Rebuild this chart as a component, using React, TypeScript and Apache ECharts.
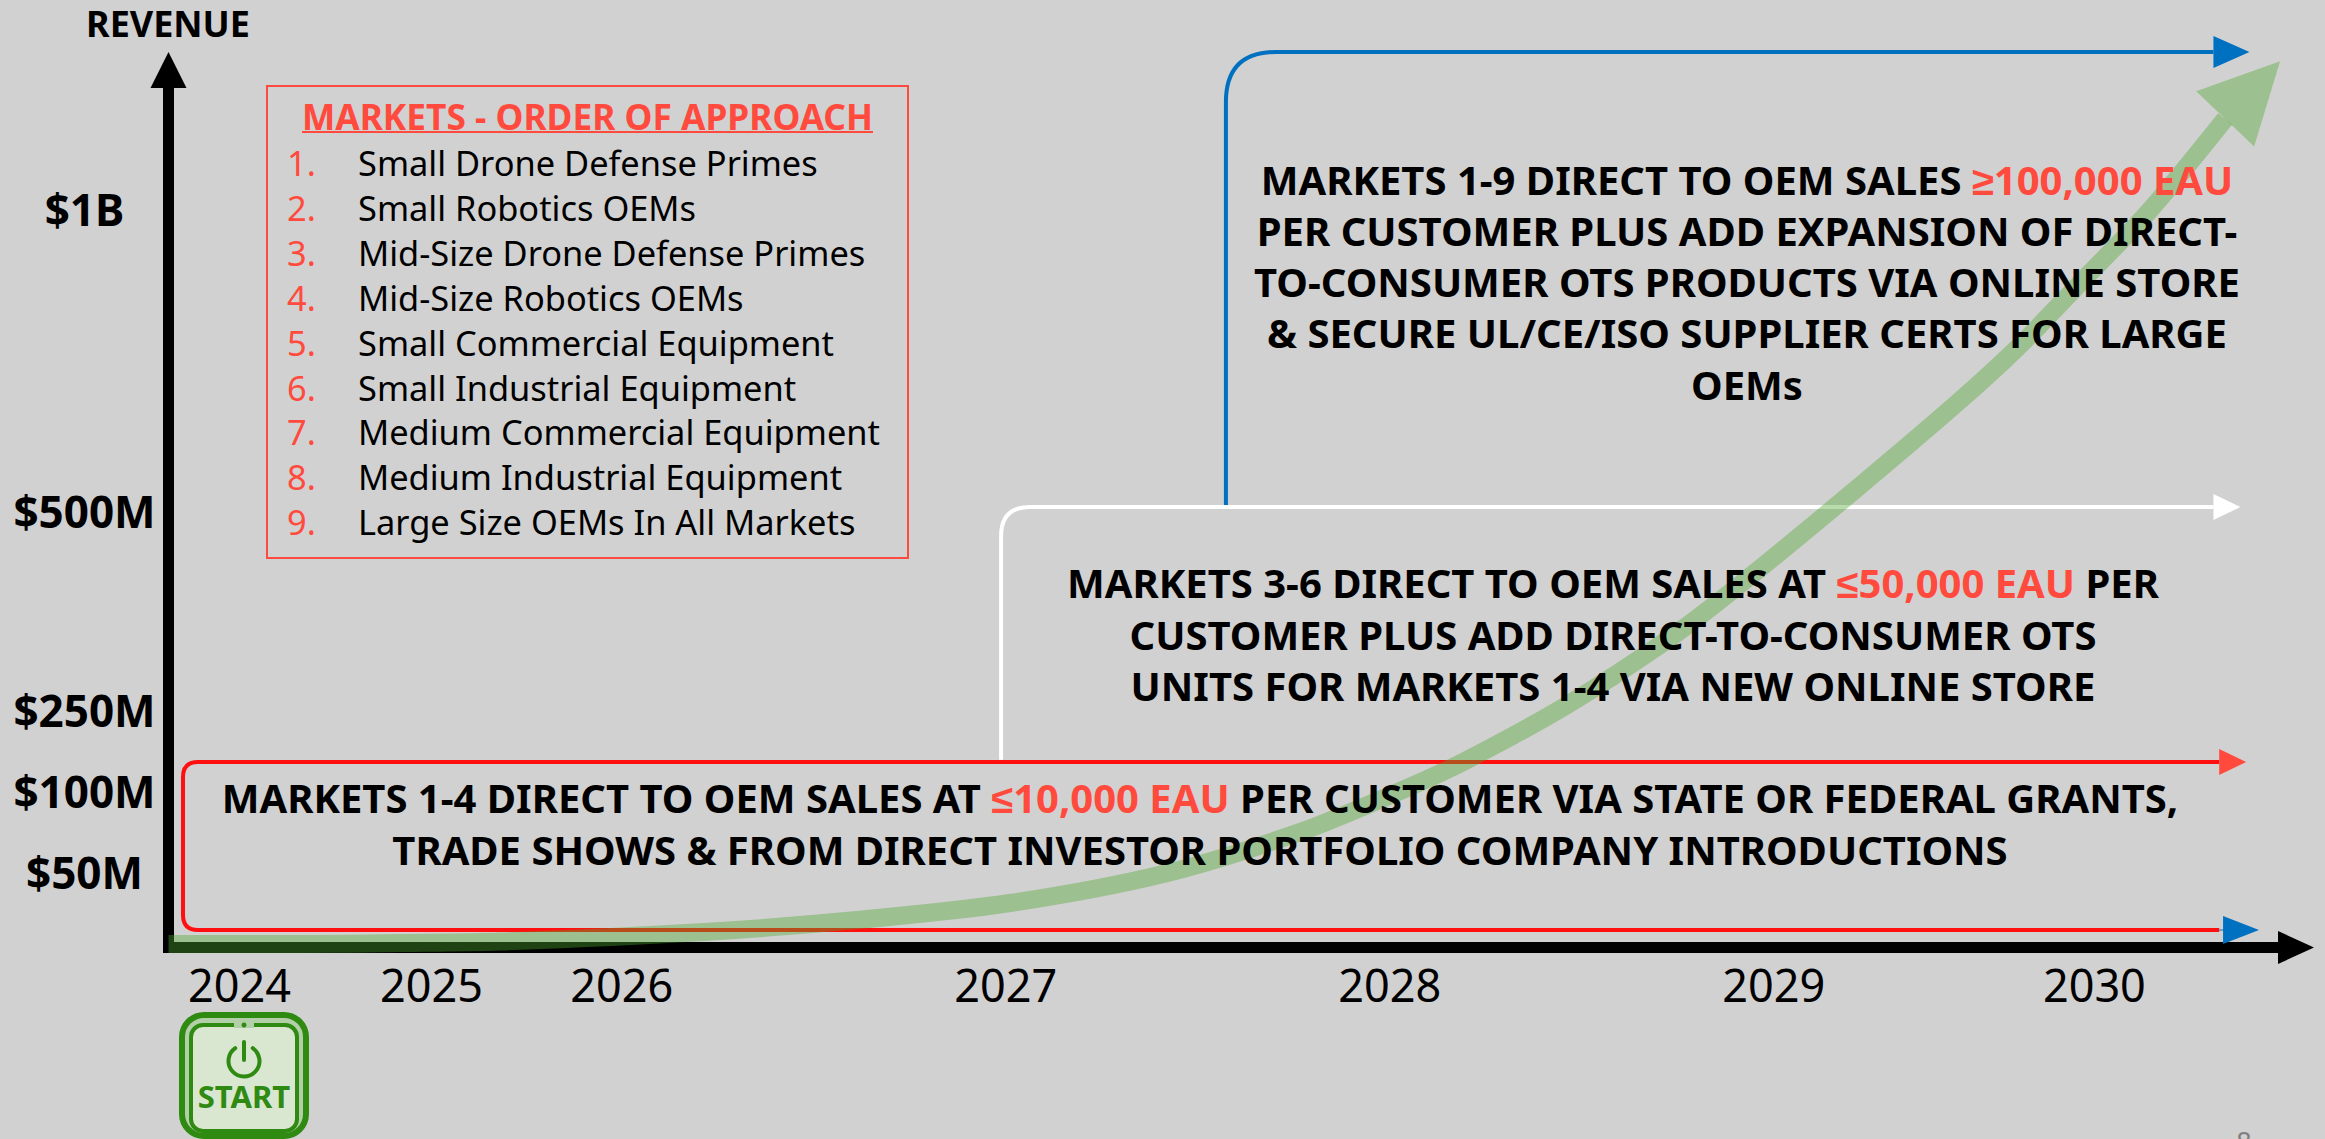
import React, { useEffect, useRef } from "react";
import * as echarts from "echarts";

// Axis ticks (timeline positions / revenue positions on the slide's non-linear scales)
const yearLabels = ["2024", "2025", "2026", "2027", "2028", "2029", "2030"];
const yearPositions = [0.37, 1.37, 2.36, 4.36, 6.36, 8.36, 10.03];
const revenueLabels = ["$50M", "$100M", "$250M", "$500M", "$1B"];
const revenuePositions = [8.6, 17.8, 27.1, 49.8, 84.2];

// Growth curve
const curveX = [0, 0.685, 1.206, 1.727, 2.789, 3.586, 4.383, 5.18, 5.893, 6.414, 6.742, 7.284, 7.805, 8.149, 8.721, 9.315, 9.628, 9.971, 10.32, 10.711];
const curveY = [0.4, 0.4, 0.51, 0.68, 1.77, 3.13, 5.07, 8.38, 13.16, 17.83, 21.14, 27.64, 35.04, 40.74, 51.0, 62.05, 68.32, 76.07, 84.05, 94.43];
const curveTip = [10.997, 101];

// Stepped stage lines
const blueStepX = [5.507, 5.507, 10.65];
const blueStepY = [50.4, 102.05, 102.05];
const whiteStepX = [4.336, 4.336, 10.65];
const whiteStepY = [21.4, 50.2, 50.2];
const redStepX = [10.68, 0.0755, 0.0755, 10.68];
const redStepY = [1.99, 1.99, 21.14, 21.14];
const bottomArrowX = [10.68, 10.7];
const bottomArrowY = [1.99, 1.99];

// Texts
const legendTitle = "MARKETS - ORDER OF APPROACH";
const legendItems = [
  "Small Drone Defense Primes",
  "Small Robotics OEMs",
  "Mid-Size Drone Defense Primes",
  "Mid-Size Robotics OEMs",
  "Small Commercial Equipment",
  "Small Industrial Equipment",
  "Medium Commercial Equipment",
  "Medium Industrial Equipment",
  "Large Size OEMs In All Markets",
];
const blueLines = [
  ["MARKETS 1-9 DIRECT TO OEM SALES ", "≥100,000 EAU"],
  ["PER CUSTOMER PLUS ADD EXPANSION OF DIRECT-"],
  ["TO-CONSUMER OTS PRODUCTS VIA ONLINE STORE"],
  ["& SECURE UL/CE/ISO SUPPLIER CERTS FOR LARGE"],
  ["OEMs"],
];
const whiteLines = [
  ["MARKETS 3-6 DIRECT TO OEM SALES AT ", "≤50,000 EAU", " PER"],
  ["CUSTOMER PLUS ADD DIRECT-TO-CONSUMER OTS"],
  ["UNITS FOR MARKETS 1-4 VIA NEW ONLINE STORE"],
];
const redLines = [
  ["MARKETS 1-4 DIRECT TO OEM SALES AT ", "≤10,000 EAU", " PER CUSTOMER VIA STATE OR FEDERAL GRANTS,"],
  ["TRADE SHOWS & FROM DIRECT INVESTOR PORTFOLIO COMPANY INTRODUCTIONS"],
];

const FONT = '"Noto Sans", sans-serif';
const ACCENT = "#ff4a3d";
const GREEN = "#4EA72E";
const DARK_GREEN = "#2f8a12";

function zip(xs: number[], ys: number[]) {
  return xs.map((x, i) => [x, ys[i]]);
}

function stepSeries(xs: number[], ys: number[], color: string, width: number, radius: number, headColor: string, headLen: number, headHalf: number, z: number) {
  const pts = zip(xs, ys);
  return {
    type: "custom",
    z,
    silent: true,
    data: pts,
    encode: { x: 0, y: 1 },
    renderItem: (params: any, api: any) => {
      if (params.dataIndex !== 0) return null;
      const p = pts.map((v) => api.coord(v));
      let d = `M${p[0][0]} ${p[0][1]}`;
      for (let i = 1; i < p.length; i++) {
        const cur = p[i];
        const next = p[i + 1];
        if (!next) {
          d += `L${cur[0]} ${cur[1]}`;
          break;
        }
        const prev = p[i - 1];
        const l1 = Math.hypot(cur[0] - prev[0], cur[1] - prev[1]) || 1;
        const l2 = Math.hypot(next[0] - cur[0], next[1] - cur[1]) || 1;
        const ax = cur[0] + ((prev[0] - cur[0]) / l1) * radius;
        const ay = cur[1] + ((prev[1] - cur[1]) / l1) * radius;
        const bx = cur[0] + ((next[0] - cur[0]) / l2) * radius;
        const by = cur[1] + ((next[1] - cur[1]) / l2) * radius;
        d += `L${ax} ${ay}Q${cur[0]} ${cur[1]} ${bx} ${by}`;
      }
      const end = p[p.length - 1];
      return {
        type: "group",
        children: [
          { type: "path", shape: { pathData: d }, style: { stroke: color, fill: "none", lineWidth: width } },
          {
            type: "polygon",
            shape: { points: [[end[0], end[1] - headHalf], [end[0] + headLen, end[1]], [end[0], end[1] + headHalf]] },
            style: { fill: headColor },
          },
        ],
      };
    },
  };
}

function textLines(lines: string[][], cx: number, ys: number[], size: number) {
  const rich = {
    k: { fontFamily: FONT, fontWeight: 700, fontSize: size, fill: "#000", color: "#000" },
    r: { fontFamily: FONT, fontWeight: 700, fontSize: size, fill: ACCENT, color: ACCENT },
  };
  return lines.map((runs, li) => ({
    type: "text",
    z: 100,
    silent: true,
    x: cx,
    y: ys[li],
    style: {
      text: runs.map((t, i) => `{${i === 1 ? "r" : "k"}|${t}}`).join(""),
      rich,
      align: "center",
      verticalAlign: "middle",
      fontFamily: FONT,
      fontWeight: 700,
      fontSize: size,
    },
  }));
}

function plainText(text: string, x: number, y: number, size: number, fill: string, weight = 400, align = "left") {
  return {
    type: "text",
    z: 100,
    silent: true,
    x,
    y,
    style: { text, fill, fontFamily: FONT, fontSize: size, fontWeight: weight, align, verticalAlign: "middle" },
  };
}

export default function App() {
  const ref = useRef<HTMLDivElement>(null);
  useEffect(() => {
    document.body.style.margin = "0";
    const chart = echarts.init(ref.current!, null, { renderer: "svg" });

    const legendGraphics: any[] = [
      { type: "rect", z: 90, silent: true, shape: { x: 267, y: 86, width: 641, height: 472 }, style: { fill: "none", stroke: ACCENT, lineWidth: 2 } },
      plainText(legendTitle, 587.5, 116, 35.3, ACCENT, 700, "center"),
      { type: "line", z: 90, silent: true, shape: { x1: 302, y1: 132, x2: 873, y2: 132 }, style: { stroke: ACCENT, lineWidth: 2 } },
    ];
    legendItems.forEach((t, i) => {
      legendGraphics.push(plainText(`${i + 1}.`, 287, 162.5 + i * 44.9, 34.4, ACCENT));
      legendGraphics.push(plainText(t, 358, 162.5 + i * 44.9, 34.4, "#000"));
    });

    const startIcon: any[] = [
      { type: "rect", z: 90, silent: true, shape: { x: 182, y: 1015, width: 124, height: 121, r: 22 }, style: { fill: "#b3cfa8", stroke: DARK_GREEN, lineWidth: 6 } },
      { type: "rect", z: 90, silent: true, shape: { x: 191, y: 1025, width: 106, height: 106, r: 12 }, style: { fill: "#d9e6d0", stroke: DARK_GREEN, lineWidth: 4 } },
      { type: "rect", z: 91, silent: true, shape: { x: 234, y: 1022, width: 20, height: 6 }, style: { fill: "#b3cfa8" } },
      { type: "circle", z: 92, silent: true, shape: { cx: 244, cy: 1025, r: 2.5 }, style: { fill: DARK_GREEN } },
      { type: "arc", z: 92, silent: true, shape: { cx: 244, cy: 1061, r: 15.5, startAngle: -Math.PI / 2 + 0.6, endAngle: Math.PI * 1.5 - 0.6, clockwise: true }, style: { stroke: DARK_GREEN, lineWidth: 4, fill: "none", lineCap: "round" } },
      { type: "line", z: 92, silent: true, shape: { x1: 244, y1: 1042, x2: 244, y2: 1060 }, style: { stroke: DARK_GREEN, lineWidth: 4, lineCap: "round" } },
      plainText("START", 244, 1096, 31, DARK_GREEN, 700, "center"),
    ];

    chart.setOption({
      animation: false,
      backgroundColor: "#d1d1d1",
      grid: { left: 168.5, top: 70, width: 2127.5, height: 877.5, containLabel: false },
      xAxis: {
        type: "value",
        min: 0,
        max: 11.08,
        splitLine: { show: false },
        axisTick: { show: false },
        axisLine: {
          show: true,
          onZero: false,
          symbol: ["none", "triangle"],
          symbolSize: [33, 36],
          lineStyle: { color: "#000", width: 11, cap: "square" },
        },
        axisLabel: {
          customValues: yearPositions,
          formatter: (v: number) => yearLabels[yearPositions.indexOf(v)] ?? "",
          fontFamily: FONT,
          fontSize: 45,
          color: "#000",
          margin: 14,
          hideOverlap: false,
        },
      },
      yAxis: {
        type: "value",
        min: 0,
        max: 100,
        splitLine: { show: false },
        axisTick: { show: false },
        axisLine: {
          show: true,
          onZero: false,
          symbol: ["none", "triangle"],
          symbolSize: [36, 36],
          lineStyle: { color: "#000", width: 11, cap: "square" },
        },
        axisLabel: {
          customValues: revenuePositions,
          formatter: (v: number) => revenueLabels[revenuePositions.indexOf(v)] ?? "",
          fontFamily: FONT,
          fontSize: 44,
          fontWeight: 700,
          color: "#000",
          align: "center",
          margin: 84,
          hideOverlap: false,
        },
      },
      graphic: [
        plainText("REVENUE", 168, 23, 36, "#000", 700, "center"),
        ...legendGraphics,
        ...textLines(blueLines, 1747, [179, 230, 281, 332, 384], 40),
        ...textLines(whiteLines, 1613, [582, 634, 685], 40),
        ...textLines(redLines, 1200, [797, 849], 40),
        ...startIcon,
        plainText("8", 2244, 1141, 27, "#7f7f7f", 400, "center"),
      ],
      series: [
        stepSeries(blueStepX, blueStepY, "#0070c0", 4, 50, "#0070c0", 36, 16, 3),
        stepSeries(whiteStepX, whiteStepY, "#ffffff", 4, 29, "#ffffff", 27, 13, 3),
        stepSeries(redStepX, redStepY, "#ff0f0f", 4, 15, ACCENT, 27, 13, 3),
        stepSeries(bottomArrowX, bottomArrowY, "#0070c0", 1, 0, "#0070c0", 36, 14, 4),
        {
          type: "line",
          z: 5,
          silent: true,
          clip: false,
          smooth: 0.3,
          showSymbol: false,
          symbol: "none",
          data: zip(curveX, curveY),
          lineStyle: { color: GREEN, opacity: 0.4, width: 18, cap: "butt" },
        },
        {
          type: "custom",
          z: 5,
          silent: true,
          data: [curveTip],
          encode: { x: 0, y: 1 },
          renderItem: (_p: any, api: any) => {
            const tip = api.coord(curveTip);
            const base = api.coord([curveX[curveX.length - 1], curveY[curveY.length - 1]]);
            const dx = tip[0] - base[0];
            const dy = tip[1] - base[1];
            const l = Math.hypot(dx, dy) || 1;
            const half = 40;
            const nx = (-dy / l) * half;
            const ny = (dx / l) * half;
            return {
              type: "polygon",
              shape: { points: [tip, [base[0] + nx, base[1] + ny], [base[0] - nx, base[1] - ny]] },
              style: { fill: GREEN, opacity: 0.4 },
            };
          },
        },
      ],
    });
    return () => chart.dispose();
  }, []);
  return <div ref={ref} style={{ width: 2325, height: 1139 }} />;
}
